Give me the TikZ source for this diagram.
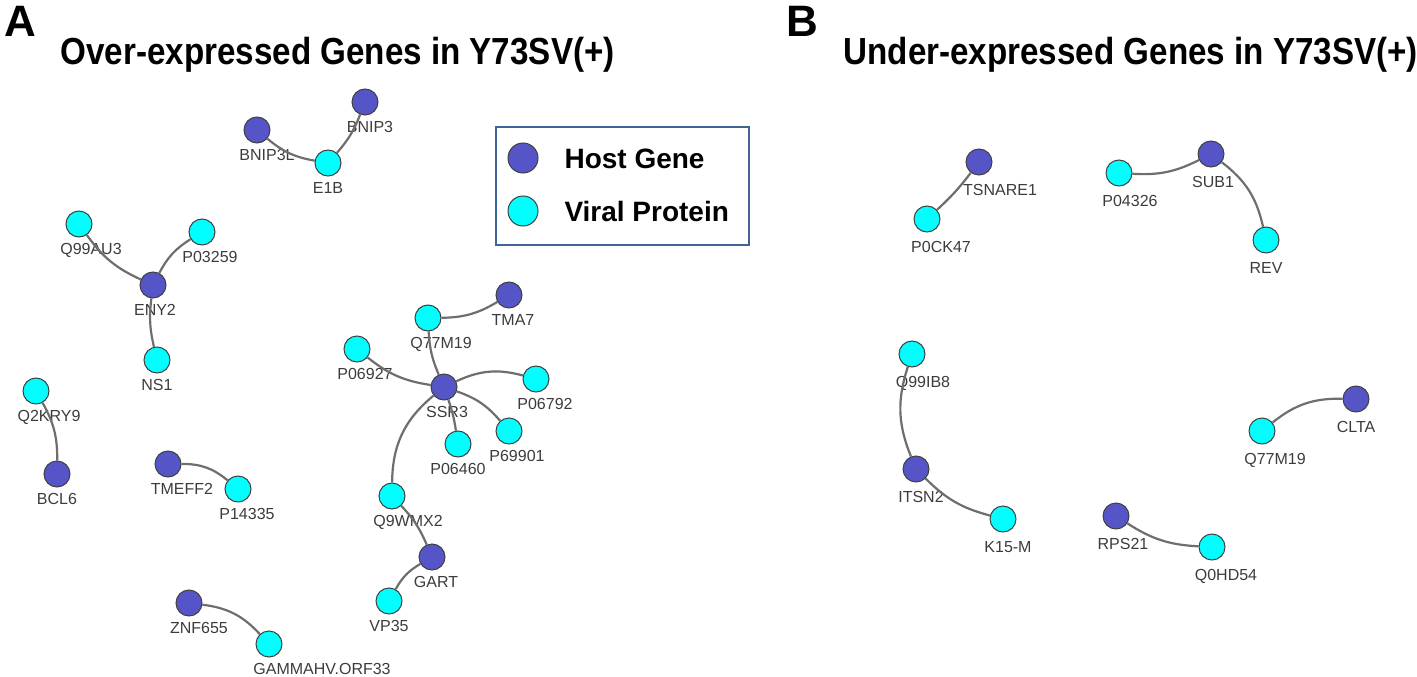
\documentclass[tikz,border=0pt]{standalone}
\usepackage{fontspec}
\setmainfont{Liberation Sans}
\newfontfamily\narrowfont[FakeStretch=0.88]{Liberation Sans}
\definecolor{hostblue}{RGB}{85,85,200}
\definecolor{viralcyan}{RGB}{0,255,255}
\definecolor{edgegray}{RGB}{110,110,110}
\definecolor{lblgray}{RGB}{60,60,60}
\definecolor{boxblue}{RGB}{65,100,150}

\tikzset{
  gene/.style={circle,draw=black!75,line width=1pt,minimum size=26pt,inner sep=0pt},
  host/.style={gene,fill=hostblue},
  viral/.style={gene,fill=viralcyan},
  lbl/.style={font=\fontsize{16}{16}\selectfont,text=lblgray,inner sep=0pt},
  link/.style={draw=edgegray,line width=2.2pt},
  title/.style={anchor=base west,font=\narrowfont\bfseries\fontsize{37.7}{38}\selectfont},
  panel/.style={anchor=base west,font=\bfseries\fontsize{44}{44}\selectfont},
  keytext/.style={anchor=base west,font=\bfseries\fontsize{28}{28}\selectfont},
}

\begin{document}
\begin{tikzpicture}[x=1pt,y=-1pt,label distance=6pt]
\useasboundingbox (0,0) rectangle (1417,677);

% panel titles
\node[panel] (pa) at (1,37) {A};
\node[title] (ta) at (57,65) {Over-expressed Genes in Y73SV(+)};
\node[panel] (pb) at (783,37) {B};
\node[title] (tb) at (840,65) {Under-expressed Genes in Y73SV(+)};

% legend
\draw[boxblue,line width=1.5pt] (496,127) rectangle (749,245);
\node[host,minimum size=30pt] (keyhost) at (523,158) {};
\node[keytext] (keyhosttxt) at (561,168) {Host Gene};
\node[viral,minimum size=30pt] (keyviral) at (523,211) {};
\node[keytext] (keyviraltxt) at (561,221) {Viral Protein};

% panel A
\node[host] (bnip3) at (365,102) [label={[lbl,xshift=5pt]below:BNIP3}] {};
\node[host] (bnip3l) at (257,130) [label={[lbl,xshift=10pt]below:BNIP3L}] {};
\node[viral] (e1b) at (328,163) [label={[lbl]below:E1B}] {};
\node[viral] (q99au3) at (79,224) [label={[lbl,xshift=12pt]below:Q99AU3}] {};
\node[viral] (p03259) at (202,232) [label={[lbl,xshift=8pt]below:P03259}] {};
\node[host] (eny2) at (153,285) [label={[lbl,xshift=2pt]below:ENY2}] {};
\node[viral] (ns1) at (157,360) [label={[lbl]below:NS1}] {};
\node[viral] (q2kry9) at (36,391) [label={[lbl,xshift=13pt]below:Q2KRY9}] {};
\node[host] (bcl6) at (57,474) [label={[lbl]below:BCL6}] {};
\node[host] (tmeff2) at (168,464) [label={[lbl,xshift=14pt]below:TMEFF2}] {};
\node[viral] (p14335) at (238,489) [label={[lbl,xshift=9pt]below:P14335}] {};
\node[host] (znf655) at (189,603) [label={[lbl,xshift=10pt]below:ZNF655}] {};
\node[viral] (gammahv) at (269,644) [label={[lbl,xshift=53pt]below:GAMMAHV.ORF33}] {};
\node[host] (tma7) at (509,295) [label={[lbl,xshift=4pt]below:TMA7}] {};
\node[viral] (q77m19) at (428,318) [label={[lbl,xshift=13pt]below:Q77M19}] {};
\node[viral] (p06927) at (357,349) [label={[lbl,xshift=8pt]below:P06927}] {};
\node[host] (ssr3) at (444,387) [label={[lbl,xshift=3pt]below:SSR3}] {};
\node[viral] (p06792) at (536,379) [label={[lbl,xshift=9pt]below:P06792}] {};
\node[viral] (p69901) at (509,431) [label={[lbl,xshift=8pt]below:P69901}] {};
\node[viral] (p06460) at (458,444) [label={[lbl]below:P06460}] {};
\node[viral] (q9wmx2) at (392,496) [label={[lbl,xshift=16pt]below:Q9WMX2}] {};
\node[host] (gart) at (432,557) [label={[lbl,xshift=4pt]below:GART}] {};
\node[viral] (vp35) at (389,601) [label={[lbl]below:VP35}] {};

\draw[link] (bnip3l) to[bend right=15] (e1b);
\draw[link] (e1b) to[bend right=10] (bnip3);
\draw[link] (q99au3) to[bend right=15] (eny2);
\draw[link] (eny2) to[bend left=15] (p03259);
\draw[link] (eny2) to[bend right=10] (ns1);
\draw[link] (q2kry9) to[bend left=15] (bcl6);
\draw[link] (tmeff2) to[bend left=20] (p14335);
\draw[link] (znf655) to[bend left=20] (gammahv);
\draw[link] (q77m19) to[bend right=15] (tma7);
\draw[link] (q77m19) to[bend right=10] (ssr3);
\draw[link] (p06927) to[bend right=15] (ssr3);
\draw[link] (ssr3) to[bend left=20] (p06792);
\draw[link] (ssr3) to[bend left=15] (p69901);
\draw[link] (ssr3) to[bend left=5] (p06460);
\draw[link] (ssr3) to[bend right=25] (q9wmx2);
\draw[link] (q9wmx2) to[bend left=10] (gart);
\draw[link] (gart) to[bend right=15] (vp35);

% panel B
\begin{scope}[label distance=9pt]
\node[host] (tsnare1) at (979,162) [label={[lbl,xshift=21pt]below:TSNARE1}] {};
\node[viral] (p0ck47) at (927,219) [label={[lbl,xshift=14pt]below:P0CK47}] {};
\node[viral] (p04326) at (1119,173) [label={[lbl,xshift=11pt]below:P04326}] {};
\node[host] (sub1) at (1211,154) [label={[lbl,xshift=2pt]below:SUB1}] {};
\node[viral] (rev) at (1266,240) [label={[lbl]below:REV}] {};
\node[viral] (q99ib8) at (912,354) [label={[lbl,xshift=11pt]below:Q99IB8}] {};
\node[host] (itsn2) at (916,469) [label={[lbl,xshift=5pt]below:ITSN2}] {};
\node[viral] (k15m) at (1003,519) [label={[lbl,xshift=5pt]below:K15-M}] {};
\node[host] (rps21) at (1116,516) [label={[lbl,xshift=7pt]below:RPS21}] {};
\node[viral] (q0hd54) at (1212,547) [label={[lbl,xshift=14pt]below:Q0HD54}] {};
\node[host] (clta) at (1356,399) [label={[lbl]below:CLTA}] {};
\node[viral] (q77m19b) at (1262,431) [label={[lbl,xshift=13pt]below:Q77M19}] {};
\end{scope}

\draw[link] (tsnare1) to[bend left=5] (p0ck47);
\draw[link] (p04326) to[bend right=15] (sub1);
\draw[link] (sub1) to[bend left=20] (rev);
\draw[link] (q99ib8) to[bend right=20] (itsn2);
\draw[link] (itsn2) to[bend right=15] (k15m);
\draw[link] (rps21) to[bend right=15] (q0hd54);
\draw[link] (q77m19b) to[bend left=20] (clta);
\end{tikzpicture}
\end{document}
